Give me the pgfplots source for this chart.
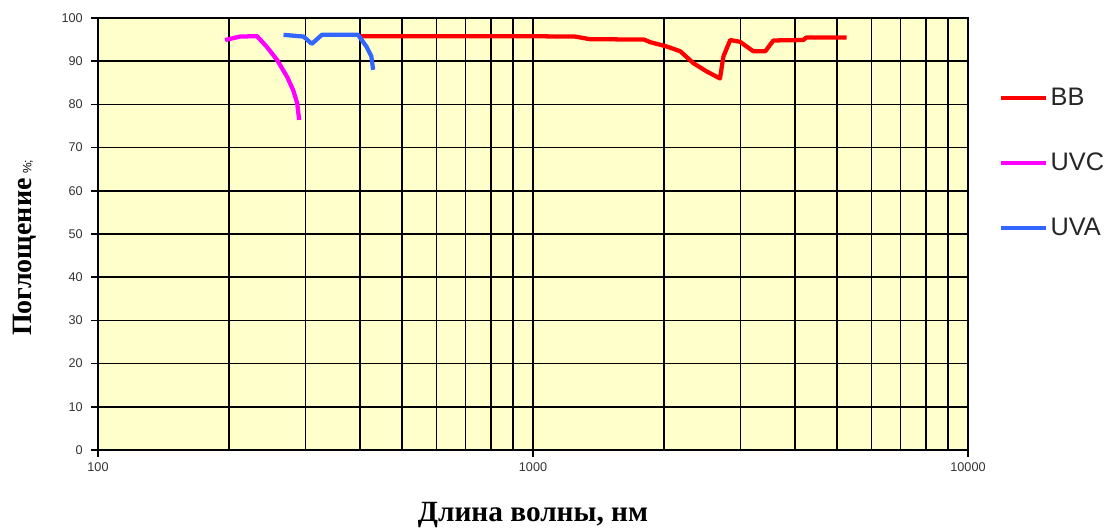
\documentclass[border=0pt]{standalone}
\usepackage{pgfplots}
\pgfplotsset{compat=1.18}
\usepackage{fontspec}
\setmainfont{Liberation Serif}
\newfontfamily\arial{Liberation Sans}
\definecolor{bgy}{HTML}{FFFFCC}
\definecolor{uvablue}{HTML}{3366FF}
\definecolor{uvcmag}{HTML}{FF00FF}
\definecolor{bbred}{HTML}{FF0000}
\begin{document}
\begin{tikzpicture}
\begin{axis}[
  at={(0,0)}, anchor=south west,
  scale only axis, width=652.5pt, height=324pt,
  xmode=log, log basis x=10,
  xmin=100, xmax=10000, ymin=0, ymax=100,
  xtick={100,1000,10000}, xticklabels={100,1000,10000},
  minor xtick={200,300,400,500,600,700,800,900,2000,3000,4000,5000,6000,7000,8000,9000},
  ytick={0,10,...,100},
  grid=both,
  major grid style={black, line width=1.1pt},
  minor grid style={black, line width=1.1pt},
  axis line style={black, line width=1.1pt},
  axis background/.style={fill=bgy},
  tick align=outside, major tick length=5pt, minor tick length=0pt,
  tick style={black, line width=1.1pt},
  xtick pos=bottom, ytick pos=left,
  /pgf/number format/assume math mode=true,
  ticklabel style={font=\arial\fontsize{9.5}{10}\selectfont, text=black!80},
  xticklabel style={yshift=-1pt},
  yticklabel style={xshift=-3pt},
  xlabel={Длина волны, нм},
  xlabel style={font=\bfseries\fontsize{22}{24}\selectfont, at={(axis description cs:0.5,0)}, anchor=center, yshift=-49pt},
  ylabel={Поглощение\,{\arial\mdseries\fontsize{9}{9}\selectfont\%;}},
  ylabel style={font=\bfseries\fontsize{21}{24}\selectfont, at={(axis description cs:0,0.468)}, anchor=center, yshift=55pt},
  legend style={at={(1.03,0.85)}, anchor=north west, draw=none, fill=none,
     font=\arial\fontsize{19}{19}\selectfont, row sep=30pt, text=black!85},
  legend cell align=left,
  legend image code/.code={\draw[#1] (0pt,0pt) -- (34pt,0pt);},
]
\addplot[bbred, line width=3.2pt, line join=round] coordinates {
(400,95.8) (600,95.8) (900,95.8) (1250,95.7) (1350,95.1) (1800,95.0) (1860,94.4)
(2030,93.4) (2180,92.3) (2340,89.5) (2510,87.6) (2690,86.0) (2740,91.1) (2840,94.9)
(2990,94.5) (3210,92.3) (3420,92.3) (3570,94.8) (4180,94.9) (4250,95.5) (5260,95.5)
};
\addlegendentry{BB}
\addplot[uvcmag, line width=3.2pt, line join=round] coordinates {
(196,94.9) (212,95.7) (232,95.8) (244,93.4) (258,90.3) (272,86.4) (281,83.3) (287,80.3) (290,76.4)
};
\addlegendentry{UVC}
\addplot[uvablue, line width=3.2pt, line join=round] coordinates {
(267,96.1) (297,95.7) (310,94.0) (327,96.1) (396,96.1) (414,93.4) (425,91.1) (429,88.0)
};
\addlegendentry{UVA}
\end{axis}
\pgfresetboundingbox
\path[use as bounding box] (-73.5pt,-60.75pt) rectangle (760.5pt,337.5pt);
\end{tikzpicture}
\end{document}
